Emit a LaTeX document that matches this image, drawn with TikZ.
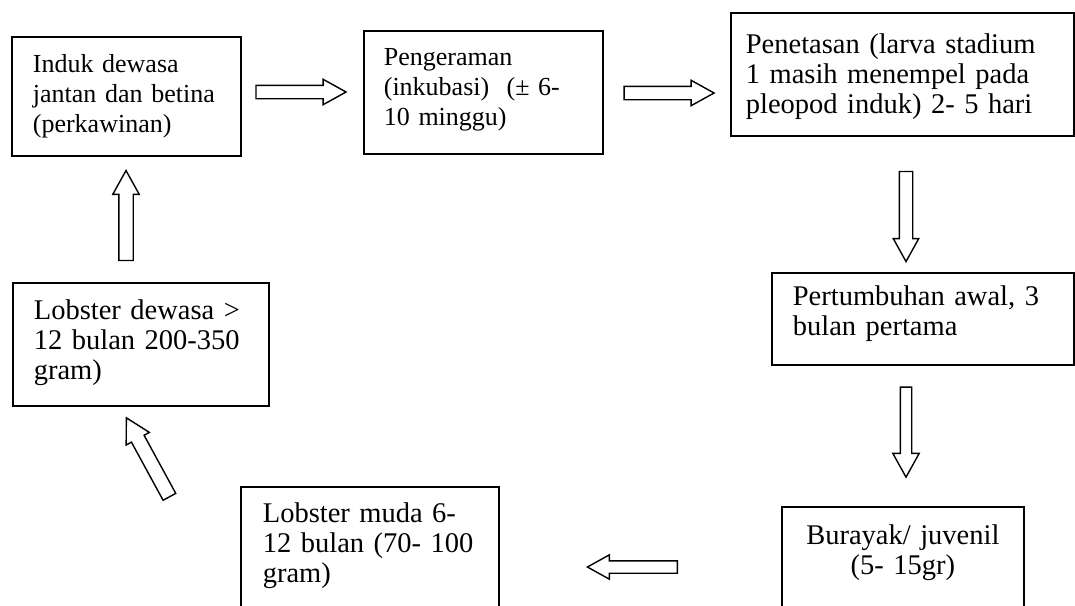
\documentclass[tikz,border=0pt]{standalone}
\usepackage{fontspec}
\setmainfont{Liberation Serif}
\usetikzlibrary{shapes.arrows}

\tikzset{
  tahap/.style={draw, line width=1.7pt, anchor=north west, inner xsep=#1, inner ysep=0pt,
    align=left, font=\fontsize{26}{30}\selectfont},
  besar/.style={font=\fontsize{28.5}{30}\selectfont},
  panah/.style={single arrow, draw, line width=1.4pt, inner xsep=0pt, inner ysep=6pt,
    minimum height=90pt, single arrow head extend=6pt, single arrow tip angle=58,
    single arrow head indent=0pt}
}

\begin{document}
\begin{tikzpicture}[x=1pt, y=-1pt]
		\useasboundingbox (0,0) rectangle (1075,605);
		\clip (0,0) rectangle (1075,605);
		
		% Baris atas
		\node[tahap=21pt, text width=187pt, text height=36pt, text depth=83pt] (induk) at (11,36) {Induk dewasa\\ jantan dan betina\\ (perkawinan)};
		\node[tahap=20pt, text width=199pt, text height=35pt, text depth=88pt] (eram) at (363,30) {Pengeraman\\ (inkubasi)~ (± 6-\\ 10 minggu)};
		\node[tahap=15pt, besar, text width=313pt, text height=41pt, text depth=82pt] (tetas) at (730,12) {Penetasan (larva stadium\\ 1 masih menempel pada\\ pleopod induk) 2- 5 hari};
		
		% Kolom kanan
		\node[tahap=21pt, besar, text width=260pt, text height=33pt, text depth=59pt] (tumbuh) at (771,272) {Pertumbuhan awal, 3\\ bulan pertama};
		\node[tahap=20pt, besar, text width=202pt, text height=38pt, text depth=112pt, align=center] (burayak) at (781,506) {Burayak/ juvenil\\ (5- 15gr)};
		
		% Bawah dan kiri
		\node[tahap=22pt, besar, text width=214pt, text height=36pt, text depth=114pt] (muda) at (240,486) {Lobster muda 6-\\ 12 bulan (70- 100\\ gram)};
		\node[tahap=21pt, besar, text width=214pt, text height=37pt, text depth=86pt] (dewasa) at (12,282) {Lobster dewasa >\\ 12 bulan 200-350\\ gram)};
		
		% Panah
		\node[panah] (p1) at (295,92) {};
		\node[panah] (p2) at (663,93) {};
		\node[panah, rotate=-90] (p3) at (906,210.5) {};
		\node[panah, rotate=-90, inner ysep=5pt, single arrow head extend=7.5pt] (p4) at (906,427) {};
		\node[panah, rotate=180, inner ysep=5.5pt] (p5) at (638,567) {};
		\node[panah, rotate=118.6, inner ysep=6.5pt] (p6) at (151,463) {};
		\node[panah, rotate=90, inner ysep=6.5pt] (p7) at (126,222) {};
	\end{tikzpicture}
\end{document}
